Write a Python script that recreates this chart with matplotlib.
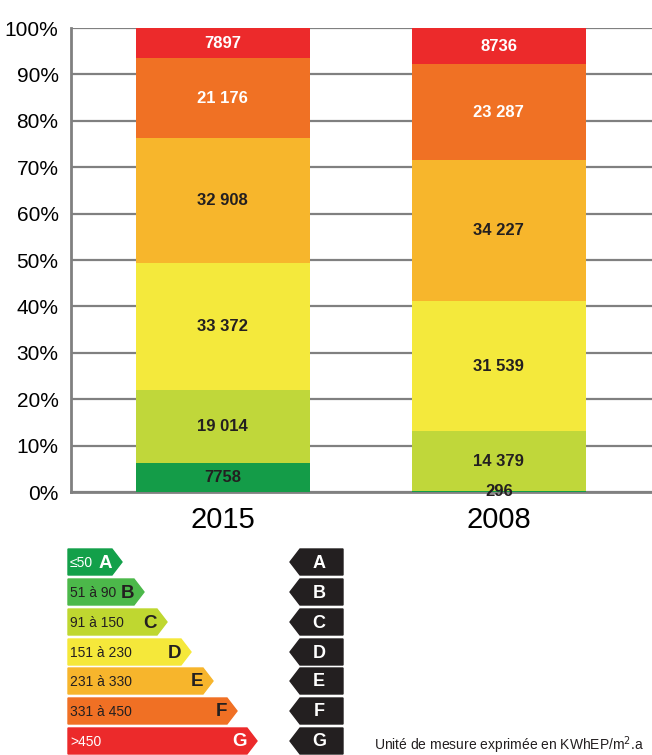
import matplotlib.pyplot as plt
import matplotlib.patches as patches
from matplotlib import font_manager

annees = ["2015", "2008"]
# segments from bottom to top (classes)
segments_2015 = [7758, 19014, 33372, 32908, 21176, 7897]
segments_2008 = [296, 14379, 31539, 34227, 23287, 8736]
couleurs_barres = ["#149c48", "#c0d73a", "#f4e93c", "#f7b62c", "#f07124", "#ec2a2b"]
couleurs_texte = ["#231f20", "#231f20", "#231f20", "#231f20", "white", "white"]

classes = ["A", "B", "C", "D", "E", "F", "G"]
tranches = ["≤50", "51 à 90", "91 à 150", "151 à 230", "231 à 330", "331 à 450", ">450"]
couleurs_classes = ["#13a04a", "#4cb84a", "#bfd730", "#f5e83a", "#f7b52c", "#f07024", "#ec2a2b"]
texte_classes = ["white", "#231f20", "#231f20", "#231f20", "#231f20", "#231f20", "white"]

noms = {f.name for f in font_manager.fontManager.ttflist}
NARROW = [n for n in ["Liberation Sans Narrow", "DejaVu Sans Condensed", "Liberation Sans"] if n in noms] + ["DejaVu Sans"]
plt.rcParams['font.family'] = ["Liberation Sans", "DejaVu Sans"]


def format_fr(v):
    if v >= 10000:
        return f"{v:,}".replace(",", " ")
    return str(v)


fig = plt.figure(figsize=(6.52, 7.55), dpi=100)
ax = fig.add_axes([71 / 652, 263 / 755, 581 / 652, 464 / 755])

donnees = [segments_2015, segments_2008]
for i, segs in enumerate(donnees):
    total = sum(segs)
    bas = 0.0
    for j, v in enumerate(segs):
        h = v / total * 100
        ax.bar(i, h, bottom=bas, width=0.63, color=couleurs_barres[j], zorder=3)
        ax.text(i, bas + h / 2, format_fr(v), ha='center', va='center',
                fontsize=12, fontweight='bold', color=couleurs_texte[j],
                family=NARROW, zorder=4)
        bas += h

ax.set_xlim(-0.55, 1.555)
ax.set_ylim(0, 100)
ax.set_yticks(range(0, 101, 10))
ax.set_yticklabels([f"{t}%" for t in range(0, 101, 10)], family=NARROW, fontsize=15)
ax.set_xticks([0, 1])
ax.set_xticklabels(annees, family=NARROW, fontsize=21)
ax.tick_params(axis='both', length=0)
ax.tick_params(axis='y', pad=9)
ax.tick_params(axis='x', pad=10)
ax.grid(axis='y', color='#808080', linewidth=1.6, zorder=1)
for s in ['top', 'right']:
    ax.spines[s].set_visible(False)
for s in ['left', 'bottom']:
    ax.spines[s].set_color('#808080')
    ax.spines[s].set_linewidth(2)

# étiquettes énergie
lg = fig.add_axes([0, 0, 1, 1])
lg.set_xlim(0, 652)
lg.set_ylim(755, 0)
lg.axis('off')
lg.patch.set_alpha(0)

hauts = [549, 579, 609, 639, 668, 698, 728]
pointes = [122, 144, 167, 191, 213, 237, 257]
h = 26
for k in range(7):
    yt = hauts[k]
    tip = pointes[k]
    pts = [[68, yt], [tip - 10, yt], [tip, yt + h / 2], [tip - 10, yt + h], [68, yt + h]]
    lg.add_patch(patches.Polygon(pts, closed=True, color=couleurs_classes[k]))
    lg.text(70, yt + h / 2 + 1, tranches[k], ha='left', va='center', fontsize=10,
            color=texte_classes[k])
    lg.text(tip - 10, yt + h / 2 + 1, classes[k], ha='right', va='center', fontsize=13.5,
            fontweight='bold', color=texte_classes[k])
    noir = [[300, yt], [343, yt], [343, yt + h], [300, yt + h], [290, yt + h / 2]]
    lg.add_patch(patches.Polygon(noir, closed=True, color='#231f20'))
    lg.text(319, yt + h / 2 + 1, classes[k], ha='center', va='center', fontsize=13,
            fontweight='bold', color='white')

lg.text(374, 750, "Unité de mesure exprimée en KWhEP/m$^2$.a", ha='left', va='baseline',
        fontsize=10, color='#231f20')

fig.savefig("out.png", dpi=100)
